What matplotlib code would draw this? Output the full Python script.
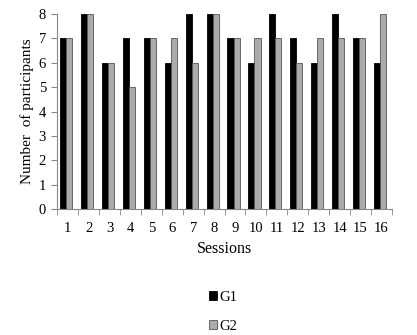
import matplotlib
matplotlib.use("Agg")
import matplotlib.pyplot as plt
import numpy as np

sessions = [str(i) for i in range(1, 17)]
g1 = [7, 8, 6, 7, 7, 6, 8, 8, 7, 6, 8, 7, 6, 8, 7, 6]
g2 = [7, 8, 6, 5, 7, 7, 6, 8, 7, 7, 7, 6, 7, 7, 7, 8]
yticks = list(range(0, 9))

plt.rcParams['font.family'] = ['Liberation Serif', 'DejaVu Serif']

fig = plt.figure(figsize=(4.17, 3.35), dpi=100)
ax = fig.add_axes([0.137, 0.376, 0.803, 0.582])

x = np.arange(len(sessions))
w = 0.29
ax.bar(x - w/2 - 0.07, g1, w, color='black', edgecolor='black', linewidth=0.6, label='G1')
ax.bar(x + w/2 - 0.07, g2, w, color='#ababab', edgecolor='#555555', linewidth=0.6, label='G2')

ax.set_xlim(-0.5, len(sessions) - 0.5)
ax.set_ylim(0, 8)
ax.set_yticks(yticks)
ax.set_xticks(x)
ax.set_xticklabels(sessions)
ax.set_xticks(np.arange(-0.5, len(sessions), 1), minor=True)
ax.tick_params(axis='x', which='major', length=0, labelsize=10.5, pad=9)
ax.tick_params(axis='x', which='minor', length=4, direction='out', color='#888888')
ax.tick_params(axis='y', length=4, direction='out', labelsize=10.5, color='#888888', pad=4)
for s in ['top', 'right']:
    ax.spines[s].set_visible(False)
for s in ['left', 'bottom']:
    ax.spines[s].set_color('#888888')
ax.set_xlabel('Sessions', fontsize=11.5, labelpad=5)
ax.set_ylabel('Number  of participants', fontsize=11, labelpad=3)

fig.legend(loc='center', bbox_to_anchor=(0.535, 0.07), frameon=False, fontsize=10.5,
           handlelength=0.55, handleheight=0.55, handletextpad=0.2, labelspacing=1.1)

fig.savefig('out.png', dpi=100)
